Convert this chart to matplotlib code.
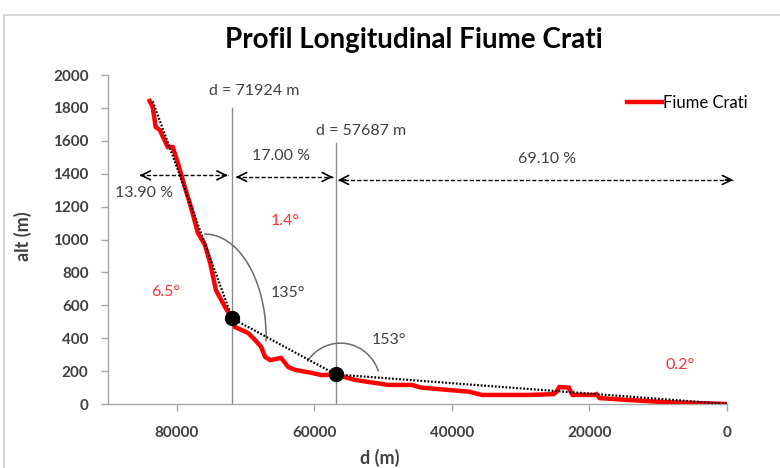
import numpy as np
import matplotlib
matplotlib.use("Agg")
import matplotlib.pyplot as plt
from matplotlib.patches import Rectangle

# ---------------- data ----------------
dist = [83940, 83500, 83070, 82480, 81310, 80580, 79850, 78830, 77950, 76930,
        75910, 75180, 74310, 72990, 71924, 71530, 69640, 68610, 67740, 67150,
        66420, 64820, 63800, 62770, 60500, 58980, 56900, 54010, 51500, 49200,
        45840, 44500, 40440, 37500, 35620, 28760, 25200, 24820, 24380, 23000,
        22900, 22480, 19300, 18980, 18540, 14160, 9340, 4000, 0]
alt = [1842, 1805, 1684, 1666, 1562, 1562, 1465, 1319, 1198, 1040,
       967, 863, 693, 590, 520, 468, 432, 389, 347, 286,
       267, 280, 225, 207, 190, 176, 178, 146, 130, 116,
       116, 100, 85, 75, 55, 55, 60, 73, 103, 100,
       91, 55, 55, 60, 36, 24, 12, 5, 0]

# knickpoints (positions as drawn in the picture) and their labels
seg_d = [83500, 71924, 56900, 0]
seg_alt = [1840, 520, 180, 0]
knick_d = [71924, 56900]
knick_alt = [520, 180]
knick_labels = ["d = 71924 m", "d = 57687 m"]
knick_line_top = [1800, 1587]

pct_labels = ["13.90 %", "17.00 %", "69.10 %"]
arrow_spans = [(85400, 72600), (71400, 57300), (56580, -900)]
arrow_y = [1390, 1380, 1362]

slope_labels = ["6.5°", "1.4°", "0.2°"]
angle_labels = ["135°", "153°"]

xticks = [80000, 60000, 40000, 20000, 0]
yticks = list(range(0, 2001, 200))

# ---------------- figure ----------------
plt.rcParams['font.family'] = ['Lato', 'DejaVu Sans']
fig = plt.figure(figsize=(7.8, 4.68), dpi=100)
ax = fig.add_axes([108/780, 1-404/468, (727-108)/780, (404-75)/468])

txt = '#404040'
fs = 11.5

# chart area border
fig.patches.append(Rectangle((4/780, -0.1), 1.2, 1.1 - 15/468,
                             transform=fig.transFigure, fill=False,
                             edgecolor='#d0d0d0', lw=1.2))

# vertical knick lines
for d, top in zip(knick_d, knick_line_top):
    ax.plot([d, d], [0, top], color='#8c8c8c', lw=1.0, zorder=1)

# profile
ax.plot(dist, alt, color='#ff0000', lw=3.2, solid_joinstyle='miter',
        label='Fiume Crati', zorder=3)
# dotted slope segments
ax.plot(seg_d, seg_alt, color='black', lw=1.6, linestyle=(0, (0.8, 0.8)),
        zorder=4)
# knickpoints
ax.plot(knick_d, knick_alt, 'o', color='black', markersize=10, zorder=5)

# knick labels
ax.text(68800, 1900, knick_labels[0], ha='center', va='center',
        fontsize=fs, color=txt)
ax.text(53240, 1660, knick_labels[1], ha='center', va='center',
        fontsize=fs, color=txt)

# dashed double arrows
for (a, b), y in zip(arrow_spans, arrow_y):
    ax.plot([a, b], [y, y], color='black', lw=1.0, linestyle=(0, (3, 1.5)),
            clip_on=False, zorder=4)
    for p, q in ((a, b), (b, a)):
        ax.annotate('', xy=(p, y), xytext=(p + (q - p) * 0.02, y),
                    arrowprops=dict(arrowstyle='->', color='black', lw=1.2,
                                    mutation_scale=16, shrinkA=0, shrinkB=0),
                    annotation_clip=False)

ax.text(84700, 1283, pct_labels[0], ha='center', va='center', fontsize=fs,
        color=txt)
ax.text(64800, 1508, pct_labels[1], ha='center', va='center', fontsize=fs,
        color=txt)
ax.text(26130, 1490, pct_labels[2], ha='center', va='center', fontsize=fs,
        color=txt)

red_t = '#ff3030'
ax.text(81600, 680, slope_labels[0], ha='center', va='center', fontsize=fs,
        color=red_t)
ax.text(64200, 1112, slope_labels[1], ha='center', va='center', fontsize=fs,
        color=red_t)
ax.text(6860, 237, slope_labels[2], ha='center', va='center', fontsize=fs,
        color=red_t)

ax.text(63900, 675, angle_labels[0], ha='center', va='center', fontsize=fs,
        color=txt)
ax.text(49200, 390, angle_labels[1], ha='center', va='center', fontsize=fs,
        color=txt)


def ell_arc(cx, cy, rx, ry, t0, t1):
    t = np.deg2rad(np.linspace(t0, t1, 80))
    # x axis is inverted: screen-right means smaller distance
    ax.plot(cx - rx * np.cos(t), cy + ry * np.sin(t), color='#6a6a6a',
            lw=1.1, zorder=2)


ell_arc(75910, 407, 8900, 626, -2, 90)
ell_arc(56200, 115, 5840, 255, 20, 145)

# axes styling
ax.set_xlim(90000, 0)
ax.set_ylim(0, 2000)
ax.set_xticks(xticks)
ax.set_yticks(yticks)
for s in ('top', 'right'):
    ax.spines[s].set_visible(False)
for s in ('left', 'bottom'):
    ax.spines[s].set_color('#a6a6a6')
    ax.spines[s].set_linewidth(1.0)
ax.tick_params(axis='both', colors='#a6a6a6', length=5, width=1.0,
               labelcolor=txt, labelsize=11)
ax.tick_params(axis='y', pad=9)
ax.tick_params(axis='x', pad=11)
for lab in ax.get_xticklabels() + ax.get_yticklabels():
    lab.set_fontweight('bold')

fig.text(23/780, 1-236/468, 'alt (m)', rotation=90, ha='center', va='center',
         fontsize=13, fontweight='bold', color=txt)
fig.text(380/780, 1-458/468, 'd (m)', ha='center', va='center',
         fontsize=13, fontweight='bold', color=txt)
fig.text(414/780, 1-40/468, 'Profil Longitudinal Fiume Crati', ha='center',
         va='center', fontsize=20, fontweight='bold', color='black')

ax.legend(loc='center right', bbox_to_anchor=(748/780, 1-103/468),
          bbox_transform=fig.transFigure, frameon=False, fontsize=12,
          handlelength=2.1, handletextpad=0.1, borderpad=0, borderaxespad=0)

fig.savefig('out.png', dpi=100)
